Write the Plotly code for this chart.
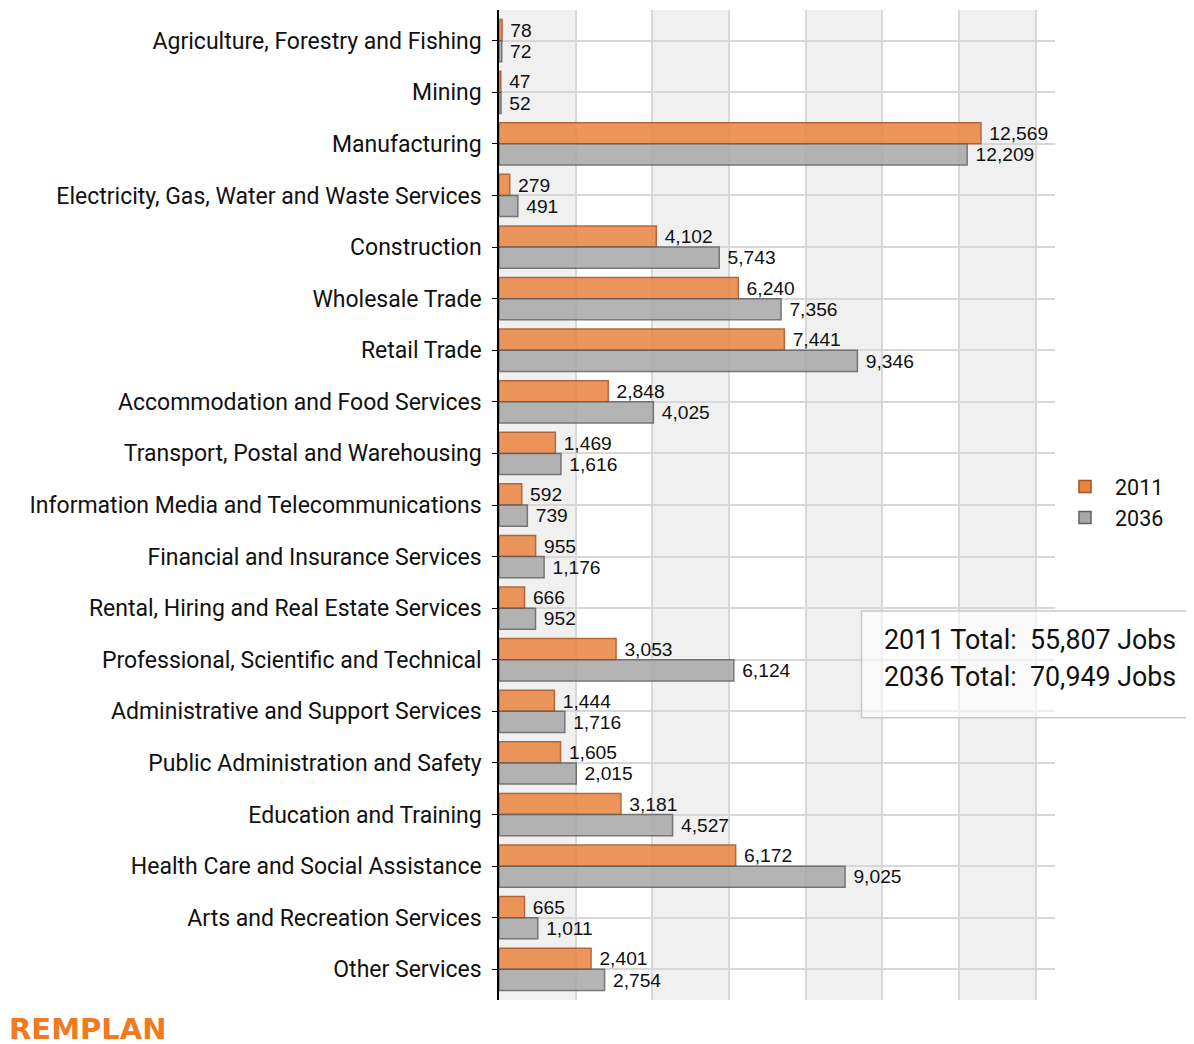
import plotly.graph_objects as go

categories = [
    "Agriculture, Forestry and Fishing", "Mining", "Manufacturing",
    "Electricity, Gas, Water and Waste Services", "Construction", "Wholesale Trade",
    "Retail Trade", "Accommodation and Food Services", "Transport, Postal and Warehousing",
    "Information Media and Telecommunications", "Financial and Insurance Services",
    "Rental, Hiring and Real Estate Services", "Professional, Scientific and Technical",
    "Administrative and Support Services", "Public Administration and Safety",
    "Education and Training", "Health Care and Social Assistance",
    "Arts and Recreation Services", "Other Services",
]
jobs_2011 = [78, 47, 12569, 279, 4102, 6240, 7441, 2848, 1469, 592, 955, 666, 3053,
             1444, 1605, 3181, 6172, 665, 2401]
jobs_2036 = [72, 52, 12209, 491, 5743, 7356, 9346, 4025, 1616, 739, 1176, 952, 6124,
             1716, 2015, 4527, 9025, 1011, 2754]
x_ticks = [0, 2000, 4000, 6000, 8000, 10000, 12000, 14000]

label_font = dict(family="Liberation Sans, Arial", size=20, color="#111")

fig = go.Figure()
fig.add_trace(go.Bar(
    name="2011", y=categories, x=jobs_2011, orientation="h",
    marker=dict(color="#EB8440", opacity=0.85, line=dict(color="#A9501A", width=1.5)),
    texttemplate=" %{x:,}", textposition="outside", cliponaxis=False,
    textfont=label_font,
))
fig.add_trace(go.Bar(
    name="2036", y=categories, x=jobs_2036, orientation="h",
    marker=dict(color="#A8A8A8", opacity=0.85, line=dict(color="#606060", width=1.5)),
    texttemplate=" %{x:,}", textposition="outside", cliponaxis=False,
    textfont=label_font,
))

# alternating bands
for i in range(0, len(x_ticks) - 1, 2):
    fig.add_shape(type="rect", xref="x", yref="paper", x0=x_ticks[i], x1=x_ticks[i + 1],
                  y0=0, y1=1, fillcolor="#F0F0F0", line_width=0, layer="below")

t2011 = sum(jobs_2011)
t2036 = sum(jobs_2036)
fig.add_shape(type="rect", xref="paper", yref="paper", x0=0.652, x1=1.27, y0=0.285, y1=0.393,
              fillcolor="rgba(255,255,255,0.6)", line=dict(color="#C8C8C8", width=1.5))
fig.add_annotation(xref="paper", yref="paper", x=0.689, y=0.3636, xanchor="left", yanchor="middle",
                   align="left", showarrow=False, text=f"2011 Total:  {t2011:,} Jobs",
                   font=dict(family="Roboto", size=26.8, color="#111"))
fig.add_annotation(xref="paper", yref="paper", x=0.689, y=0.3263, xanchor="left", yanchor="middle",
                   align="left", showarrow=False, text=f"2036 Total:  {t2036:,} Jobs",
                   font=dict(family="Roboto", size=26.8, color="#111"))
fig.add_annotation(xref="paper", yref="paper", x=-0.884, y=-0.029, xanchor="left", yanchor="middle",
                   showarrow=False, text="<b>REMPLAN</b>",
                   font=dict(family="DejaVu Sans", size=29, color="#F07A1E"))

fig.update_layout(
    width=1194, height=1044,
    margin=dict(l=491, r=147, t=2, b=52),
    barmode="group", bargap=0.18, bargroupgap=0,
    plot_bgcolor="white", paper_bgcolor="white",
    font=dict(family="Roboto", size=20, color="#111"),
    legend=dict(x=1.0, y=0.503, xanchor="left", yanchor="middle", itemwidth=50,
                font=dict(family="Roboto", size=21.5, color="#111")),
    xaxis=dict(range=[0, 14500], tickvals=x_ticks, showticklabels=False,
               showgrid=True, gridcolor="#D8D8D8", gridwidth=2, zeroline=False,
               showline=False),
    yaxis=dict(range=[18.595, -0.595], showgrid=True, gridcolor="#D8D8D8", gridwidth=2,
               showline=True, linecolor="#000", linewidth=2, ticks="outside",
               ticklen=5, tickcolor="#000", ticksuffix=" ",
               tickfont=dict(family="Roboto", size=23, color="#111")),
)
fig.write_html("out.html")
